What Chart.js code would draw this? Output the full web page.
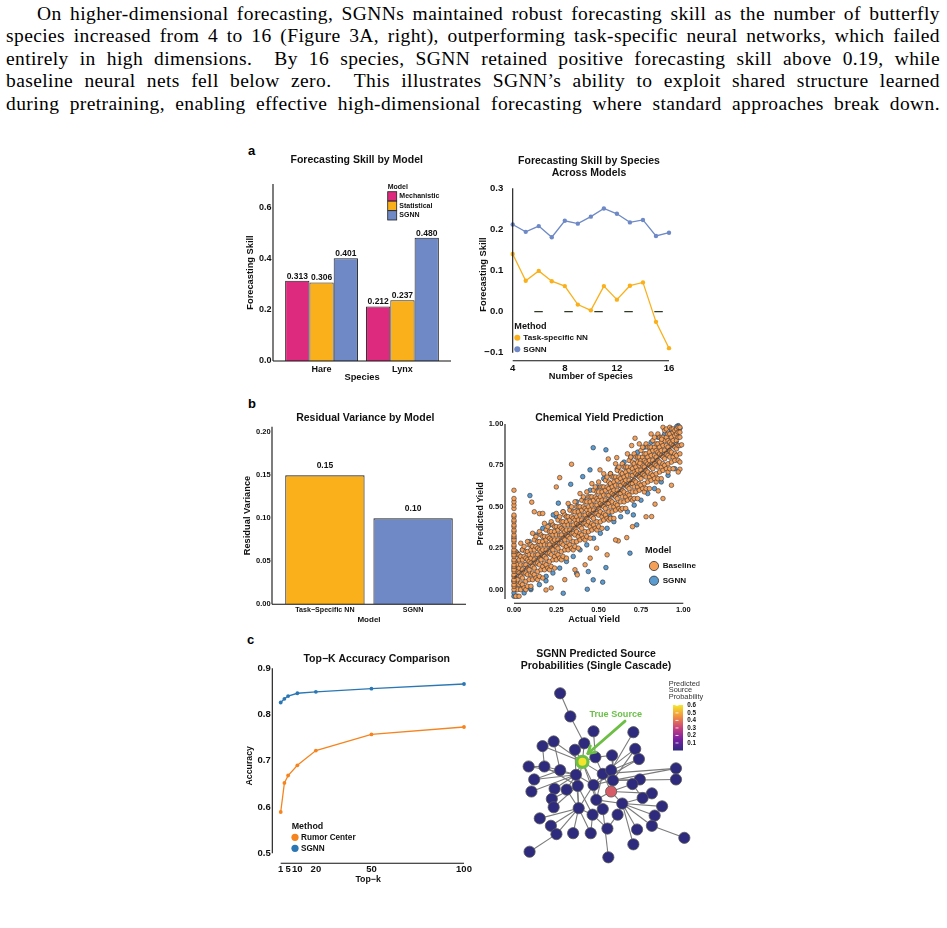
<!DOCTYPE html>
<html>
<head>
<meta charset="utf-8">
<script src="https://cdn.jsdelivr.net/npm/chart.js@4.4.1/dist/chart.umd.min.js"></script>
<style>
html, body { margin: 0; padding: 0; background: #fff; }
body { width: 947px; height: 928px; position: relative; overflow: hidden; }
#para { position: absolute; left: 6px; top: 3px; width: 934px; font-family: "Liberation Serif", "Times New Roman", serif; font-size: 19.5px; letter-spacing: 0.4px; line-height: 22.4px; color: #000; }
#para div { text-align: justify; text-align-last: justify; }
.lab { position: absolute; font: bold 13px "Liberation Sans", Arial, sans-serif; line-height: 13px; color: #000; }
canvas { position: absolute; }
</style>
</head>
<body>
<div id="para">
  <div style="padding-left:31px">On higher-dimensional forecasting, SGNNs maintained robust forecasting skill as the number of butterfly</div>
  <div>species increased from 4 to 16 (Figure 3A, right), outperforming task-specific neural networks, which failed</div>
  <div>entirely in high dimensions.&nbsp; By 16 species, SGNN retained positive forecasting skill above 0.19, while</div>
  <div>baseline neural nets fell below zero.&nbsp; This illustrates SGNN’s ability to exploit shared structure learned</div>
  <div>during pretraining, enabling effective high-dimensional forecasting where standard approaches break down.</div>
</div>
<div class="lab" style="left:248px;top:144px">a</div>
<div class="lab" style="left:248px;top:397px">b</div>
<div class="lab" style="left:247px;top:633px">c</div>
<canvas id="cA1"></canvas>
<canvas id="cA2"></canvas>
<canvas id="cB1"></canvas>
<canvas id="cB2"></canvas>
<canvas id="cC1"></canvas>
<canvas id="cC2"></canvas>
<script>
// ---------- data ----------
// a, left: forecasting skill by model
const species = ['Hare', 'Lynx'];
const modelNames = ['Mechanistic', 'Statistical', 'SGNN'];
const skillMechanistic = [0.313, 0.212];
const skillStatistical = [0.306, 0.237];
const skillSGNN = [0.401, 0.480];

// a, right: skill vs number of species
const nSpecies = [4, 5, 6, 7, 8, 9, 10, 11, 12, 13, 14, 15, 16];
const skillTaskNN = [0.140, 0.075, 0.099, 0.074, 0.062, 0.017, 0.003, 0.062, 0.029, 0.063, 0.071, -0.025, -0.089];
const skillSGNNSpecies = [0.212, 0.194, 0.208, 0.181, 0.221, 0.214, 0.231, 0.251, 0.238, 0.217, 0.223, 0.184, 0.192];
const methodNamesA = ['Task-specific NN', 'SGNN'];

// b, left: residual variance
const residualModels = ['Task\u2212Specific NN', 'SGNN'];
const residualVariance = [0.15, 0.10];

// b, right: chemical yield (actual, predicted), read from the cloud
// rows: [actual, predicted, predicted, ...]
const baselineRows = [
  [0.01, -0.04, 0.03, 0.07, 0.12, 0.17, 0.23], [0.02, 0.00, 0.06, 0.11, 0.15, 0.21], [0.03, -0.04, 0.03, 0.10, 0.13, 0.18, 0.21],
  [0.04, 0.00, 0.04, 0.08, 0.15, 0.20, 0.28], [0.05, 0.03, 0.07, 0.12, 0.18, 0.24], [0.06, 0.01, 0.10, 0.15, 0.20, 0.26],
  [0.07, 0.00, 0.05, 0.10, 0.15, 0.19, 0.23], [0.08, 0.02, 0.09, 0.13, 0.18, 0.23, 0.29], [0.09, 0.06, 0.12, 0.17, 0.21, 0.27],
  [0.10, 0.02, 0.09, 0.16, 0.19, 0.24, 0.27], [0.11, 0.06, 0.10, 0.14, 0.21, 0.26, 0.34], [0.12, 0.09, 0.13, 0.18, 0.24, 0.30],
  [0.13, 0.07, 0.16, 0.21, 0.26, 0.32], [0.14, 0.06, 0.11, 0.16, 0.21, 0.25, 0.29], [0.15, 0.08, 0.15, 0.19, 0.24, 0.29, 0.35],
  [0.16, 0.12, 0.18, 0.23, 0.27, 0.33], [0.17, 0.07, 0.14, 0.21, 0.24, 0.29, 0.32], [0.18, 0.12, 0.16, 0.20, 0.27, 0.32, 0.40],
  [0.19, 0.15, 0.19, 0.24, 0.30, 0.36], [0.20, 0.13, 0.22, 0.27, 0.32, 0.38], [0.21, 0.12, 0.17, 0.22, 0.27, 0.31, 0.35],
  [0.22, 0.14, 0.21, 0.25, 0.30, 0.35, 0.41], [0.23, 0.18, 0.24, 0.29, 0.33, 0.39], [0.24, 0.13, 0.20, 0.27, 0.30, 0.35, 0.38],
  [0.25, 0.18, 0.22, 0.26, 0.33, 0.38, 0.46], [0.26, 0.21, 0.25, 0.30, 0.36, 0.42], [0.27, 0.19, 0.28, 0.33, 0.38, 0.44],
  [0.28, 0.18, 0.23, 0.28, 0.33, 0.37, 0.41], [0.29, 0.20, 0.27, 0.31, 0.36, 0.41, 0.47], [0.30, 0.24, 0.30, 0.35, 0.39, 0.45],
  [0.31, 0.19, 0.26, 0.33, 0.36, 0.41, 0.44], [0.32, 0.24, 0.28, 0.32, 0.39, 0.44, 0.52], [0.33, 0.27, 0.31, 0.36, 0.42, 0.48],
  [0.34, 0.25, 0.34, 0.39, 0.44, 0.50], [0.35, 0.24, 0.29, 0.34, 0.39, 0.43, 0.47], [0.36, 0.26, 0.33, 0.37, 0.42, 0.47, 0.53],
  [0.37, 0.29, 0.35, 0.40, 0.44, 0.50], [0.38, 0.25, 0.32, 0.39, 0.42, 0.47, 0.50], [0.39, 0.30, 0.34, 0.38, 0.45, 0.50, 0.58],
  [0.40, 0.33, 0.37, 0.42, 0.48, 0.54], [0.41, 0.31, 0.40, 0.45, 0.50, 0.56], [0.42, 0.30, 0.35, 0.40, 0.45, 0.49, 0.53],
  [0.43, 0.32, 0.39, 0.43, 0.48, 0.53, 0.59], [0.44, 0.35, 0.41, 0.46, 0.50, 0.56], [0.45, 0.31, 0.38, 0.45, 0.48, 0.53, 0.56],
  [0.46, 0.36, 0.40, 0.44, 0.51, 0.56, 0.64], [0.47, 0.39, 0.43, 0.48, 0.54, 0.60], [0.48, 0.37, 0.46, 0.51, 0.56, 0.62],
  [0.49, 0.36, 0.41, 0.46, 0.51, 0.55, 0.59], [0.50, 0.38, 0.45, 0.49, 0.54, 0.59, 0.65], [0.51, 0.41, 0.47, 0.52, 0.56, 0.62],
  [0.52, 0.37, 0.44, 0.51, 0.54, 0.59, 0.62], [0.53, 0.42, 0.46, 0.50, 0.57, 0.62, 0.70], [0.54, 0.45, 0.49, 0.54, 0.60, 0.66],
  [0.55, 0.43, 0.52, 0.57, 0.62, 0.68], [0.56, 0.42, 0.47, 0.52, 0.57, 0.61, 0.65], [0.57, 0.43, 0.50, 0.54, 0.59, 0.64, 0.70],
  [0.58, 0.47, 0.53, 0.58, 0.62, 0.68], [0.59, 0.43, 0.50, 0.57, 0.60, 0.65, 0.68], [0.60, 0.48, 0.52, 0.56, 0.63, 0.68, 0.76],
  [0.61, 0.51, 0.55, 0.60, 0.66, 0.72], [0.62, 0.49, 0.58, 0.63, 0.68, 0.74], [0.63, 0.48, 0.53, 0.58, 0.63, 0.67, 0.71],
  [0.64, 0.49, 0.56, 0.60, 0.65, 0.70, 0.76], [0.65, 0.53, 0.59, 0.64, 0.68, 0.74], [0.66, 0.49, 0.56, 0.63, 0.66, 0.71, 0.74],
  [0.67, 0.54, 0.58, 0.62, 0.69, 0.74, 0.82], [0.68, 0.57, 0.61, 0.66, 0.72, 0.78], [0.69, 0.55, 0.64, 0.69, 0.74, 0.80],
  [0.70, 0.54, 0.59, 0.64, 0.69, 0.73, 0.77], [0.71, 0.55, 0.62, 0.66, 0.71, 0.76, 0.82], [0.72, 0.59, 0.65, 0.70, 0.74, 0.80],
  [0.73, 0.55, 0.62, 0.69, 0.72, 0.77, 0.80], [0.74, 0.60, 0.64, 0.68, 0.75, 0.80, 0.88], [0.75, 0.63, 0.67, 0.72, 0.78, 0.84],
  [0.76, 0.61, 0.70, 0.75, 0.80, 0.86], [0.77, 0.59, 0.64, 0.69, 0.74, 0.78, 0.82], [0.78, 0.61, 0.68, 0.72, 0.77, 0.82, 0.88],
  [0.79, 0.65, 0.71, 0.76, 0.80, 0.86], [0.80, 0.61, 0.68, 0.75, 0.78, 0.83, 0.86], [0.81, 0.66, 0.70, 0.74, 0.81, 0.86, 0.94],
  [0.82, 0.69, 0.73, 0.78, 0.84, 0.90], [0.83, 0.67, 0.76, 0.81, 0.86, 0.92], [0.84, 0.65, 0.70, 0.75, 0.80, 0.84, 0.88],
  [0.85, 0.67, 0.74, 0.78, 0.83, 0.88, 0.94], [0.86, 0.71, 0.77, 0.82, 0.86, 0.92], [0.87, 0.67, 0.74, 0.81, 0.84, 0.89, 0.92],
  [0.88, 0.72, 0.76, 0.80, 0.87, 0.92, 0.98], [0.89, 0.75, 0.79, 0.84, 0.90, 0.96], [0.90, 0.73, 0.82, 0.87, 0.92, 0.97],
  [0.91, 0.71, 0.76, 0.81, 0.86, 0.90, 0.94], [0.92, 0.73, 0.80, 0.84, 0.89, 0.94, 0.98], [0.93, 0.77, 0.83, 0.88, 0.92, 0.97],
  [0.94, 0.73, 0.80, 0.87, 0.90, 0.95, 0.97], [0.95, 0.78, 0.82, 0.86, 0.93, 0.96], [0.96, 0.81, 0.85, 0.90, 0.94, 0.97],
  [0.97, 0.78, 0.87, 0.92, 0.95, 0.98], [0.98, 0.77, 0.82, 0.87, 0.92, 0.95, 0.98]
];
const baselineZeroY = [0.00, 0.02, 0.03, 0.05, 0.06, 0.08, 0.09, 0.11, 0.12, 0.14, 0.15, 0.17, 0.18, 0.20, 0.21,
  0.23, 0.24, 0.26, 0.27, 0.29, 0.30, 0.32, 0.33, 0.35, 0.36, 0.38, 0.39, 0.41, 0.42, 0.44, 0.45, 0.49, 0.51, 0.53, 0.55, 0.60];
const baselineOutliers = [
  [0.34, 0.757], [0.27, 0.676], [0.715, 0.914], [0.872, 0.908], [0.99, 0.874], [0.98, 0.727], [0.852, 0.596],
  [0.833, 0.516], [0.813, 0.441], [0.666, 0.314], [0.616, 0.294], [0.105, 0.528], [0.15, 0.459], [0.189, -0.002],
  [0.374, 0.089], [0.488, 0.25], [0.744, 0.763], [0.695, 0.87], [0.607, 0.797], [0.557, 0.789], [0.508, 0.723],
  [0.12, 0.47], [0.17, 0.46], [0.22, 0.01], [0.30, 0.06], [0.42, 0.15], [0.45, 0.19], [0.55, 0.21], [0.60, 0.30],
  [0.70, 0.38], [0.78, 0.44], [0.88, 0.55], [0.93, 0.63], [0.97, 0.71], [0.36, 0.12], [0.25, 0.62]
];
const sgnnEdgePts = [
  [0.02, -0.04], [0.02, 0.22], [0.05, 0.24], [0.06, -0.02], [0.09, 0.29], [0.10, 0.00], [0.13, 0.33], [0.15, 0.03],
  [0.17, 0.37], [0.19, 0.08], [0.21, 0.39], [0.23, 0.10], [0.25, 0.44], [0.27, 0.13], [0.29, 0.47], [0.31, 0.17],
  [0.33, 0.50], [0.35, 0.20], [0.37, 0.53], [0.39, 0.24], [0.41, 0.55], [0.43, 0.27], [0.45, 0.60], [0.47, 0.31],
  [0.49, 0.62], [0.51, 0.34], [0.53, 0.67], [0.55, 0.37], [0.57, 0.70], [0.59, 0.41], [0.61, 0.73], [0.63, 0.44],
  [0.65, 0.77], [0.67, 0.47], [0.69, 0.80], [0.71, 0.51], [0.73, 0.83], [0.75, 0.54], [0.77, 0.86], [0.79, 0.58],
  [0.81, 0.89], [0.83, 0.61], [0.85, 0.92], [0.87, 0.65], [0.89, 0.94], [0.91, 0.69], [0.93, 0.96], [0.95, 0.73], [0.97, 0.99]
];
const sgnnZeroY = [-0.04, -0.02, 0.05, 0.13, 0.22, 0.31];
const sgnnOutliers = [
  [0.468, 0.857], [0.543, 0.844], [0.094, 0.568], [0.335, 0.636], [0.406, 0.682], [0.449, 0.723],
  [0.291, -0.022], [0.433, 0.002], [0.524, 0.045], [0.468, 0.059], [0.37, 0.099], [0.439, 0.109],
  [0.543, 0.133], [0.685, 0.22], [0.189, 0.053], [0.099, 0.008], [0.035, 0.028], [0.961, 0.984],
  [0.98, 0.975], [0.941, 0.813], [0.705, 0.451], [0.725, 0.391], [0.567, 0.441], [0.232, 0.451], [0.262, 0.522]
];
const fitLine = [[0.0, 0.07], [0.97, 0.895]];
const yieldModels = ['Baseline', 'SGNN'];

// c, left: top-k accuracy
const topK = [1, 3, 5, 10, 20, 50, 100];
const accRumor = [0.589, 0.652, 0.668, 0.690, 0.722, 0.757, 0.773];
const accSGNN = [0.826, 0.834, 0.840, 0.846, 0.849, 0.856, 0.866];
const methodNamesC = ['Rumor Center', 'SGNN'];

// c, right: network layout (layout units) and predicted source probability
const nodeX = [57, 68, 93, 136, 50, 38, 83, 73, 95, 113, 138, 142, 81, 23, 40, 57, 29, 74, 103, 112, 114, 143, 182, 182, 26,
  51, 64, 76, 93, 135, 112, 156, 48, 50, 77, 96, 124, 146, 167, 103, 92, 119, 159, 35, 47, 53, 71, 90, 108, 140, 156, 136, 191, 24, 109];
const nodeY = [182, 157, 141, 140, 130, 125, 128, 121, 113, 115, 122, 111, 108, 103, 103, 99, 89, 94, 95, 99, 88, 89, 101, 89, 76,
  79, 78, 82, 83, 84, 76, 74, 68, 59, 58, 67, 63, 69, 60, 57, 51, 51, 50, 47, 39, 30, 31, 31, 36, 35, 39, 19, 26, 11, 5];
const nodeProb = [0, 0, 0, 0, 0, 0, 0, 0, 0, 0, 0, 0, 0.60, 0, 0, 0, 0, 0, 0, 0, 0, 0, 0, 0, 0,
  0, 0, 0, 0, 0, 0.35, 0, 0, 0, 0, 0, 0, 0, 0, 0, 0, 0, 0, 0, 0, 0, 0, 0, 0, 0, 0, 0, 0, 0, 0];
const trueSource = 13;
const edges = [[1, 2], [2, 7], [7, 13], [3, 9], [4, 20], [5, 6], [5, 13], [5, 16], [6, 15], [6, 13], [8, 13], [8, 18],
  [9, 13], [9, 19], [10, 9], [10, 21], [11, 21], [11, 19], [12, 29], [12, 20], [13, 18], [13, 28], [13, 29], [13, 36],
  [13, 21], [14, 15], [14, 18], [15, 16], [15, 28], [16, 18], [17, 16], [17, 18], [18, 25], [18, 26], [18, 27], [18, 28],
  [18, 35], [18, 29], [19, 20], [19, 29], [19, 36], [19, 23], [21, 24], [21, 22], [21, 29], [22, 30], [23, 21], [26, 33],
  [27, 35], [28, 35], [28, 34], [28, 33], [29, 35], [29, 36], [30, 31], [30, 38], [31, 36], [31, 32], [31, 37], [31, 19],
  [32, 38], [35, 44], [35, 45], [35, 46], [35, 47], [35, 48], [35, 41], [36, 40], [36, 37], [37, 38], [37, 39], [37, 43],
  [37, 50], [37, 51], [37, 42], [37, 52], [40, 55], [40, 41], [41, 48], [41, 49], [42, 49], [51, 53], [46, 54], [34, 33], [28, 41]];
const probTicks = [0.1, 0.2, 0.3, 0.4, 0.5, 0.6];
const probRange = [0.0, 0.605];
const arrowFrom = [127, 152];
const arrowTo = [87, 117];
const arrowLabelAt = [117, 159];

// ---------- styling helpers ----------
const SANS = '"Liberation Sans", Arial, Helvetica, sans-serif';
Chart.defaults.font.family = SANS;
Chart.defaults.font.weight = 'bold';
Chart.defaults.color = '#111';

const C = {
  mech: '#DE2A7E', stat: '#F9B01B', sgnn: '#6E89C6',
  base: '#F4A058', sgnnY: '#5B9BD0',
  rumor: '#F5841F', sgnnK: '#2A77B4',
  edge: '#7b7b7b', green: '#6DBE45'
};
const cmapStops = [[0, '#2E2B7E'], [0.25, '#7A1FA2'], [0.5, '#C9437B'], [0.75, '#F2923F'], [1, '#F3E82C']];

function hex(c) { return [1, 3, 5].map(i => parseInt(c.slice(i, i + 2), 16)); }
function cmap(p) {
  const t = Math.max(0, Math.min(1, (p - probRange[0]) / (probRange[1] - probRange[0])));
  for (let i = 1; i < cmapStops.length; i++) {
    if (t <= cmapStops[i][0]) {
      const a = cmapStops[i - 1], b = cmapStops[i];
      const f = (t - a[0]) / (b[0] - a[0]);
      const ca = hex(a[1]), cb = hex(b[1]);
      return 'rgb(' + ca.map((v, k) => Math.round(v + (cb[k] - v) * f)).join(',') + ')';
    }
  }
  return cmapStops[cmapStops.length - 1][1];
}

function font(size, weight) { return {family: SANS, size: size, weight: weight || 'bold', lineHeight: 1.2}; }

function axis(o) {
  return {
    type: 'linear', min: o.min, max: o.max, offset: false, display: true,
    grid: {display: false, drawTicks: false, tickLength: 0, offset: false},
    border: {display: false},
    afterBuildTicks: s => { s.ticks = o.ticks.map(v => ({value: v})); },
    ticks: {font: font(o.size), color: '#111', padding: o.pad, autoSkip: false, maxRotation: 0, minRotation: 0, callback: o.fmt},
    title: {display: true, text: o.title, font: font(o.tsize), color: '#111', padding: {top: o.tpad, bottom: o.tpad}}
  };
}

function text(ctx, s, x, y, size, o) {
  o = o || {};
  ctx.font = (o.weight || 'bold') + ' ' + size + 'px ' + SANS;
  ctx.fillStyle = o.color || '#111';
  ctx.textAlign = o.align || 'center';
  ctx.textBaseline = 'middle';
  ctx.fillText(s, x, y);
}
function seg(ctx, x1, y1, x2, y2, w, c) {
  ctx.beginPath();
  ctx.moveTo(x1, y1); ctx.lineTo(x2, y2);
  ctx.lineWidth = w || 1.1; ctx.strokeStyle = c || '#111';
  ctx.stroke();
}
function dot(ctx, x, y, r, fill, stroke) {
  ctx.beginPath(); ctx.arc(x, y, r, 0, Math.PI * 2);
  ctx.fillStyle = fill; ctx.fill();
  if (stroke) { ctx.lineWidth = 0.8; ctx.strokeStyle = stroke; ctx.stroke(); }
}
function title(ctx, lines, cx, cy, gap) {
  lines.forEach((l, i) => text(ctx, l, cx, cy + i * (gap || 12.6), 10.5));
}
const minusFmt = d => v => (v < 0 ? '\u2212' : '') + Math.abs(v).toFixed(d);

// builds a chart whose plot area sits on exact page pixels
function makeChart(id, box, plot, config, deco) {
  const cv = document.getElementById(id);
  cv.width = box.w; cv.height = box.h;
  cv.style.left = box.x + 'px'; cv.style.top = box.y + 'px';
  const opt = config.options;
  opt.responsive = false; opt.animation = false; opt.devicePixelRatio = 1;
  opt.layout = {padding: {left: 0, top: plot.top - box.y, right: box.x + box.w - plot.right, bottom: 0}};
  opt.plugins = {legend: {display: false}, tooltip: {enabled: false}};
  if (opt.scales.x.display !== false) {
    opt.scales.x.afterFit = s => { s.height = box.y + box.h - plot.bottom; s.paddingLeft = 0; s.paddingRight = 0; };
    opt.scales.y.afterFit = s => { s.width = plot.left - box.x; s.paddingTop = 0; s.paddingBottom = 0; };
  }
  config.plugins = [{
    id: 'deco_' + id,
    afterDraw(chart) {
      const ctx = chart.ctx;
      ctx.save();
      ctx.translate(-box.x, -box.y);
      const X = v => chart.scales.x.getPixelForValue(v) + box.x;
      const Y = v => chart.scales.y.getPixelForValue(v) + box.y;
      deco(ctx, X, Y, chart, box);
      ctx.restore();
    }
  }];
  return new Chart(cv, config);
}

// ---------- a, left ----------
const barSet = (label, vals, color) => ({
  label: label, data: vals.map((v, i) => ({x: i + 1, y: v})),
  backgroundColor: color, borderColor: '#222', borderWidth: 1,
  categoryPercentage: 0.9, barPercentage: 1
});
makeChart('cA1', {x: 240, y: 140, w: 226, h: 245}, {left: 273, right: 451, top: 184, bottom: 361}, {
  type: 'bar',
  data: {datasets: [
    barSet(modelNames[0], skillMechanistic, C.mech),
    barSet(modelNames[1], skillStatistical, C.stat),
    barSet(modelNames[2], skillSGNN, C.sgnn)
  ]},
  options: {scales: {
    x: axis({min: 0.4, max: 2.6, ticks: [1, 2], fmt: v => species[v - 1], size: 9, pad: 2.9, title: 'Species', tsize: 9.3, tpad: 1.7}),
    y: axis({min: 0, max: 0.69, ticks: [0, 0.2, 0.4, 0.6], fmt: v => v.toFixed(1), size: 9, pad: 1.5, title: 'Forecasting Skill', tsize: 9.3, tpad: 5.1})
  }}
}, (ctx, X, Y, chart, box) => {
  seg(ctx, X(0.4), Y(0), X(2.6), Y(0));
  seg(ctx, X(0.4), Y(0), X(0.4), Y(0.69));
  [skillMechanistic, skillStatistical, skillSGNN].forEach((vals, d) => {
    chart.getDatasetMeta(d).data.forEach((el, i) => text(ctx, vals[i].toFixed(3), el.x + box.x, el.y + box.y - 4.5, 8.5));
  });
  title(ctx, ['Forecasting Skill by Model'], 356.7, 160.3);
  text(ctx, 'Model', 387.7, 186.7, 7, {align: 'left'});
  [C.mech, C.stat, C.sgnn].forEach((c, i) => {
    const y0 = 191.7 + i * 9.5;
    ctx.fillStyle = c; ctx.fillRect(387.7, y0, 9, 9.3);
    ctx.lineWidth = 0.8; ctx.strokeStyle = '#222'; ctx.strokeRect(387.7, y0, 9, 9.3);
    text(ctx, modelNames[i], 399.3, y0 + 4.8, 7, {align: 'left'});
  });
});

// ---------- a, right ----------
const lineSet = (label, xs, ys, color, r) => ({
  label: label, data: xs.map((x, i) => ({x: x, y: ys[i]})),
  borderColor: color, backgroundColor: color, borderWidth: 1.3,
  pointRadius: r, pointBorderWidth: 0, pointBackgroundColor: color, clip: false, tension: 0
});
makeChart('cA2', {x: 470, y: 140, w: 220, h: 245}, {left: 512.7, right: 669, top: 188.3, bottom: 360.7}, {
  type: 'line',
  data: {datasets: [
    lineSet(methodNamesA[1], nSpecies, skillSGNNSpecies, C.sgnn, 2.2),
    lineSet(methodNamesA[0], nSpecies, skillTaskNN, C.stat, 2.2),
    {label: 'zero', data: [{x: nSpecies[0], y: 0}, {x: nSpecies[nSpecies.length - 1], y: 0}],
      borderColor: '#2f3a22', borderWidth: 1.3, borderDash: [8.5, 21.5], borderDashOffset: 8.4, pointRadius: 0, clip: false, order: 5}
  ]},
  options: {scales: {
    x: axis({min: 4, max: 16, ticks: [4, 8, 12, 16], fmt: v => String(v), size: 9.6, pad: 2, title: 'Number of Species', tsize: 9.3, tpad: 3.4}),
    y: axis({min: -0.1195, max: 0.3, ticks: [-0.1, 0, 0.1, 0.2, 0.3], fmt: minusFmt(1), size: 9.6, pad: 9.4, title: 'Forecasting Skill', tsize: 9.3, tpad: 7.7})
  }}
}, (ctx, X, Y, chart, box) => {
  seg(ctx, X(4), chart.chartArea.bottom + box.y, X(16), chart.chartArea.bottom + box.y);
  seg(ctx, X(4), Y(-0.1), X(4), Y(0.3));
  title(ctx, ['Forecasting Skill by Species', 'Across Models'], 589, 160.7);
  text(ctx, 'Method', 514.3, 326, 9.1, {align: 'left'});
  [C.stat, C.sgnn].forEach((c, i) => {
    dot(ctx, 517.3, 337.7 + i * 11.6, 3, c);
    text(ctx, methodNamesA[i], 523.3, 337.7 + i * 11.6, 8.1, {align: 'left'});
  });
});

// ---------- b, left ----------
makeChart('cB1', {x: 238, y: 395, w: 235, h: 230}, {left: 272, right: 466, top: 426.7, bottom: 604.3}, {
  type: 'bar',
  data: {datasets: [{
    label: 'Residual Variance', data: residualVariance.map((v, i) => ({x: i + 1, y: v})),
    backgroundColor: [C.stat, C.sgnn], borderColor: '#222', borderWidth: 1.1,
    categoryPercentage: 0.9, barPercentage: 1
  }]},
  options: {scales: {
    x: axis({min: 0.4, max: 2.6, ticks: [1, 2], fmt: v => residualModels[v - 1], size: 7.1, pad: 1.45, title: 'Model', tsize: 8, tpad: 0.9}),
    y: axis({min: 0, max: 0.2065, ticks: [0, 0.05, 0.1, 0.15, 0.2], fmt: v => v.toFixed(2), size: 7.5, pad: 1.3, title: 'Residual Variance', tsize: 9.3, tpad: 3.7})
  }}
}, (ctx, X, Y, chart, box) => {
  seg(ctx, X(0.4), Y(0), X(2.6), Y(0));
  seg(ctx, X(0.4), Y(0), X(0.4), Y(0.2065));
  chart.getDatasetMeta(0).data.forEach((el, i) => text(ctx, residualVariance[i].toFixed(2), el.x + box.x, el.y + box.y - 9.7, 8.5));
  title(ctx, ['Residual Variance by Model'], 365.3, 418.3);
});

// ---------- b, right ----------
function rowsToPoints(rows) {
  const pts = [];
  rows.forEach(r => r.slice(1).forEach(y => pts.push({x: r[0], y: y})));
  return pts;
}
const baselinePts = rowsToPoints(baselineRows)
  .concat(baselineZeroY.map(y => ({x: 0, y: y})))
  .concat(baselineOutliers.map(p => ({x: p[0], y: p[1]})));
const sgnnPts = sgnnEdgePts.map(p => ({x: p[0], y: p[1]}))
  .concat(sgnnZeroY.map(y => ({x: 0, y: y})))
  .concat(sgnnOutliers.map(p => ({x: p[0], y: p[1]})));
makeChart('cB2', {x: 470, y: 395, w: 245, h: 230}, {left: 505, right: 683.3, top: 424, bottom: 603.3}, {
  type: 'scatter',
  data: {datasets: [
    {label: 'fit', type: 'line', data: fitLine.map(p => ({x: p[0], y: p[1]})), borderColor: 'rgba(35,28,28,0.42)', borderWidth: 2.2, pointRadius: 0, order: 0, clip: false},
    {label: yieldModels[0], data: baselinePts, backgroundColor: C.base, borderColor: '#3a3030', borderWidth: 0.6, pointRadius: 2.3, order: 1, clip: false},
    {label: yieldModels[1], data: sgnnPts, backgroundColor: C.sgnnY, borderColor: '#2a3038', borderWidth: 0.6, pointRadius: 2.3, order: 2, clip: false}
  ]},
  options: {scales: {
    x: axis({min: -0.053, max: 1.0, ticks: [0, 0.25, 0.5, 0.75, 1], fmt: v => v.toFixed(2), size: 7.5, pad: 2.2, title: 'Actual Yield', tsize: 9.1, tpad: 0.5}),
    y: axis({min: -0.0827, max: 1.0, ticks: [0, 0.25, 0.5, 0.75, 1], fmt: v => v.toFixed(2), size: 7.5, pad: 1.7, title: 'Predicted Yield', tsize: 8.8, tpad: 5.4})
  }}
}, (ctx, X, Y, chart, box) => {
  seg(ctx, X(0), chart.chartArea.bottom + box.y, X(1), chart.chartArea.bottom + box.y);
  seg(ctx, chart.chartArea.left + box.x, Y(-0.056), chart.chartArea.left + box.x, Y(1));
  title(ctx, ['Chemical Yield Prediction'], 599.5, 417.7);
  text(ctx, 'Model', 645, 550.3, 9.1, {align: 'left'});
  [C.base, C.sgnnY].forEach((c, i) => {
    dot(ctx, 654, 566 + i * 14.7, 4.6, c, '#333');
    text(ctx, yieldModels[i], 662.7, 566 + i * 14.7, 8.1, {align: 'left'});
  });
});

// ---------- c, left ----------
makeChart('cC1', {x: 238, y: 635, w: 250, h: 252}, {left: 272.3, right: 464, top: 668.3, bottom: 863.3}, {
  type: 'line',
  data: {datasets: [
    lineSet(methodNamesC[1], topK, accSGNN, C.sgnnK, 1.9),
    lineSet(methodNamesC[0], topK, accRumor, C.rumor, 1.9)
  ]},
  options: {scales: {
    x: axis({min: -3.54, max: 100, ticks: [1, 5, 10, 20, 50, 100], fmt: v => String(v), size: 9.5, pad: 0.3, title: 'Top\u2212k', tsize: 8.8, tpad: 2.4}),
    y: axis({min: 0.478, max: 0.9, ticks: [0.5, 0.6, 0.7, 0.8, 0.9], fmt: v => v.toFixed(1), size: 9.5, pad: 1.6, title: 'Accuracy', tsize: 8.8, tpad: 6.7})
  }}
}, (ctx, X, Y, chart, box) => {
  seg(ctx, X(1), chart.chartArea.bottom + box.y, X(100), chart.chartArea.bottom + box.y);
  seg(ctx, chart.chartArea.left + box.x, Y(0.5), chart.chartArea.left + box.x, Y(0.9));
  title(ctx, ['Top\u2212K Accuracy Comparison'], 376.7, 659);
  text(ctx, 'Method', 291.7, 826.7, 8.9, {align: 'left'});
  [C.rumor, C.sgnnK].forEach((c, i) => {
    dot(ctx, 295, 837.3 + i * 11, 3.6, c);
    text(ctx, methodNamesC[i], 301, 837.3 + i * 11, 8.2, {align: 'left'});
  });
});

// ---------- c, right ----------
const edgeSets = edges.map(e => ({
  label: 'edge', showLine: true,
  data: [{x: nodeX[e[0] - 1], y: nodeY[e[0] - 1]}, {x: nodeX[e[1] - 1], y: nodeY[e[1] - 1]}],
  borderColor: C.edge, borderWidth: 1.1, pointRadius: 0, order: 3, clip: false
}));
const nodeSet = {
  label: 'nodes', data: nodeX.map((x, i) => ({x: x, y: nodeY[i]})),
  pointRadius: 5.6, order: 0, clip: false,
  pointBackgroundColor: nodeProb.map(cmap),
  pointBorderColor: nodeX.map((x, i) => i === trueSource - 1 ? C.green : '#555'),
  pointBorderWidth: nodeX.map((x, i) => i === trueSource - 1 ? 3.2 : 0.8)
};
makeChart('cC2', {x: 480, y: 640, w: 240, h: 240}, {left: 480, right: 720, top: 640, bottom: 880}, {
  type: 'scatter',
  data: {datasets: edgeSets.concat([nodeSet])},
  options: {scales: {
    x: {type: 'linear', display: false, min: -20, max: 220},
    y: {type: 'linear', display: false, min: -10, max: 230}
  }}
}, (ctx, X, Y) => {
  title(ctx, ['SGNN Predicted Source', 'Probabilities (Single Cascade)'], 596, 654, 12);
  // arrow to the true source
  const x1 = X(arrowFrom[0]), y1 = Y(arrowFrom[1]), x2 = X(arrowTo[0]), y2 = Y(arrowTo[1]);
  ctx.lineCap = 'round';
  seg(ctx, x1, y1, x2, y2, 2.8, C.green);
  const ang = Math.atan2(y2 - y1, x2 - x1);
  [-0.55, 0.55].forEach(d => seg(ctx, x2, y2, x2 - 8 * Math.cos(ang + d), y2 - 8 * Math.sin(ang + d), 2.8, C.green));
  text(ctx, 'True Source', X(arrowLabelAt[0]), Y(arrowLabelAt[1]), 9.1, {color: '#6CC04A'});
  // colour bar
  const bx = 673, bw = 10, bTop = 705, bBot = 750.5;
  const vy = v => bBot - (v - probRange[0]) / (probRange[1] - probRange[0]) * (bBot - bTop);
  const g = ctx.createLinearGradient(0, bBot, 0, bTop);
  cmapStops.forEach(s => g.addColorStop(s[0], s[1]));
  ctx.fillStyle = g; ctx.fillRect(bx, bTop, bw, bBot - bTop);
  ctx.lineCap = 'butt';
  probTicks.forEach(v => {
    seg(ctx, bx + 2.5, vy(v), bx + 5.5, vy(v), 0.9, 'rgba(255,255,255,0.9)');
    text(ctx, v.toFixed(1), bx + 14.3, vy(v), 6.3, {align: 'left'});
  });
  ['Predicted', 'Source', 'Probability'].forEach((s, i) => text(ctx, s, 668.7, 684 + i * 6.4, 7.4, {weight: 'normal', color: '#333', align: 'left'}));
});
</script>
</body>
</html>
